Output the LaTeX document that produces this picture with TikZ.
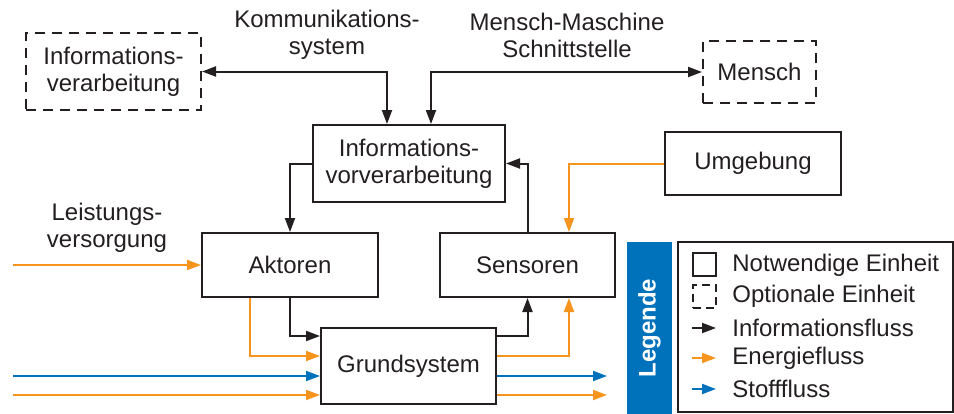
\documentclass[tikz,border=0pt]{standalone}
\usepackage{fontspec}
\setmainfont{Liberation Sans}
\usepackage{tikz}
\usetikzlibrary{arrows.meta, positioning}
\pgfdeclarelayer{edgelayer}
\pgfdeclarelayer{nodelayer}
\pgfsetlayers{nodelayer,main,edgelayer}
\definecolor{energie}{RGB}{247,148,29}
\definecolor{stoff}{RGB}{0,114,188}
\definecolor{dunkel}{RGB}{35,31,32}
\tikzset{
	unit/.style={draw=dunkel, line width=1pt, align=center, inner sep=0pt},
	optunit/.style={unit, dash pattern=on 5pt off 3.5pt},
	info/.style={draw=dunkel, line width=1pt, ->},
	energy/.style={draw=energie, line width=1pt, ->},
	material/.style={draw=stoff, line width=1pt, ->},
}

\begin{document}
\begin{tikzpicture}[x=0.5pt, y=-0.5pt, text=dunkel, font={\fontsize{12}{13.5}\selectfont}, >={Triangle[length=7pt, width=5pt]}]
	\useasboundingbox (0, 0) rectangle (954, 413);
	\begin{pgfonlayer}{nodelayer}
		\node [optunit, minimum width=87.5pt, minimum height=38.5pt] (infoverarb) at (113.5, 71.5) {Informations-\\verarbeitung};
		\node [optunit, minimum width=56.5pt, minimum height=31pt] (mensch) at (759.5, 72) {Mensch};
		\node [unit, minimum width=96pt, minimum height=38.5pt] (vorverarb) at (409, 163.5) {Informations-\\vorverarbeitung};
		\node [unit, minimum width=88pt, minimum height=31.5pt] (umgebung) at (753, 163.5) {Umgebung};
		\node [unit, minimum width=88pt, minimum height=32pt] (aktoren) at (290, 265) {Aktoren};
		\node [unit, minimum width=87.5pt, minimum height=32pt] (sensoren) at (527.5, 265) {Sensoren};
		\node [unit, minimum width=87.5pt, minimum height=38pt] (grund) at (408.5, 366) {Grundsystem};
		\node [align=center] (komm) at (327, 35) {Kommunikations-\\system};
		\node [align=center] (mms) at (567, 35) {Mensch-Maschine\\Schnittstelle};
		\node [align=center] (leistung) at (107, 228) {Leistungs-\\versorgung};
		\coordinate (leistIn) at (13, 265);
		\coordinate (stoffIn) at (13, 376);
		\coordinate (energieIn) at (13, 395);
		\coordinate (stoffOut) at (607, 376);
		\coordinate (energieOut) at (607, 395);
		% legend
		\node [fill=stoff, inner sep=0pt, minimum width=22.5pt, minimum height=86pt] (legbar) at (649.5, 328) {};
		\node [rotate=90, text=white, font={\fontsize{12}{13.5}\selectfont\bfseries}] (legtitle) at (legbar) {Legende};
		\node [draw=dunkel, line width=0.75pt, minimum width=137.5pt, minimum height=85pt] (legbox) at (815.5, 327) {};
		\node [unit, minimum size=11.5pt] (legsolid) at (704, 264.5) {};
		\node [unit, dash pattern=on 4pt off 2.5pt, minimum size=11.5pt] (legdash) at (704, 296) {};
		\coordinate (legInfoA) at (692, 328);
		\coordinate (legInfoB) at (716, 328);
		\coordinate (legEnA) at (692, 358);
		\coordinate (legEnB) at (716, 358);
		\coordinate (legStA) at (692, 389);
		\coordinate (legStB) at (716, 389);
		\node [anchor=west, inner sep=0pt] (legt1) at (732, 265) {Notwendige Einheit};
		\node [anchor=west, inner sep=0pt] (legt2) at (732, 296) {Optionale Einheit};
		\node [anchor=west, inner sep=0pt] (legt3) at (732, 328) {Informationsfluss};
		\node [anchor=west, inner sep=0pt] (legt4) at (732, 358) {Energiefluss};
		\node [anchor=west, inner sep=0pt] (legt5) at (732, 389) {Stofffluss};
	\end{pgfonlayer}
	\begin{pgfonlayer}{edgelayer}
		\draw [info, <->] (infoverarb.east) -| ([xshift=-11pt]vorverarb.north);
		\draw [info, <->] (mensch.west) -| ([xshift=11pt]vorverarb.north);
		\draw [info] (vorverarb.west) -| (aktoren.north);
		\draw [info] (sensoren.north) |- (vorverarb.east);
		\draw [energy] (umgebung.west) -| ([xshift=20.75pt]sensoren.north);
		\draw [energy] (leistIn) to (aktoren.west);
		\draw [info] (aktoren.south) |- ([yshift=15pt]grund.west);
		\draw [energy] ([xshift=-20pt]aktoren.south) |- ([yshift=5pt]grund.west);
		\draw [material] (stoffIn) to ([yshift=-5pt]grund.west);
		\draw [energy] (energieIn) to ([yshift=-14.5pt]grund.west);
		\draw [info] ([yshift=15pt]grund.east) -| (sensoren.south);
		\draw [energy] ([yshift=5pt]grund.east) -| ([xshift=20.75pt]sensoren.south);
		\draw [material] ([yshift=-5pt]grund.east) to (stoffOut);
		\draw [energy] ([yshift=-14.5pt]grund.east) to (energieOut);
		\draw [info] (legInfoA) to (legInfoB);
		\draw [energy] (legEnA) to (legEnB);
		\draw [material] (legStA) to (legStB);
	\end{pgfonlayer}
\end{tikzpicture}
\end{document}
